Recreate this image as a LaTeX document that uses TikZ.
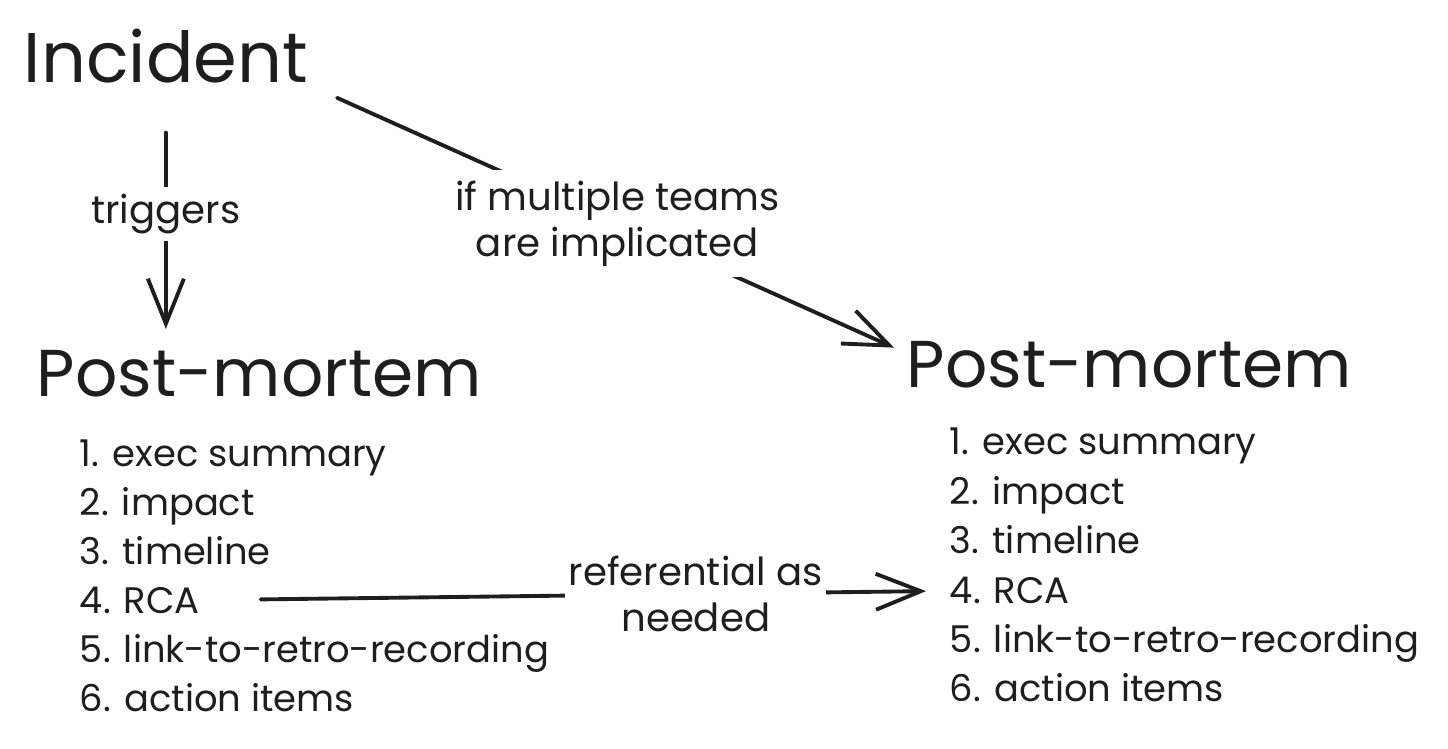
\documentclass[tikz,border=0pt]{standalone}
\usepackage{fontspec}
\setmainfont{Poppins}
\usetikzlibrary{arrows.meta,calc}
\definecolor{ink}{HTML}{1E1E1E}

\begin{document}
\begin{tikzpicture}[x=0.02cm, y=-0.02cm, ink, line width=2.2pt, line cap=round,
  >={Straight Barb[length=9mm,width=7.2mm]},
  title/.style={inner sep=0pt, anchor=base west, font=\fontsize{37.7}{44}\selectfont},
  item/.style={inner sep=0pt, anchor=base west, font=\fontsize{21}{25}\selectfont},
  lbl/.style={fill=white, inner sep=4pt, align=center, font=\fontsize{22}{26}\selectfont}]
\useasboundingbox (0,0) rectangle (1448,749);
\node (1) [title, font=\fontsize{40}{48}\selectfont] at (22,83) {Incident};
\node (2) [title] at (35,397) {Post-mortem};
\node (3) [title] at (905,388) {Post-mortem};
\foreach \t [count=\i] in {exec summary, impact, timeline, RCA, link-to-retro-recording, action items} {
  \node (2\i) [item] at (78,{467+49*(\i-1)})    {\i. \t};
  \node (3\i) [item] at (948,{455+49.4*(\i-1)}) {\i. \t};
}
\path[->] (1.south) edge[shorten <=0.94cm, shorten >=0.4cm] node[lbl, pos=0.487] {triggers} (1.south |- 2.north)
          (1.south east) edge[shorten <=0.6cm, shorten >=0.24cm] node[lbl, inner sep=6pt, pos=0.517] {if multiple teams\\are implicated} ($(3.north west)!0.5!(3.west)$)
          (24) edge[shorten <=1.18cm, shorten >=0.44cm] node[lbl, inner sep=2pt, pos=0.662] {referential as\\needed} (34);
\end{tikzpicture}
\end{document}
